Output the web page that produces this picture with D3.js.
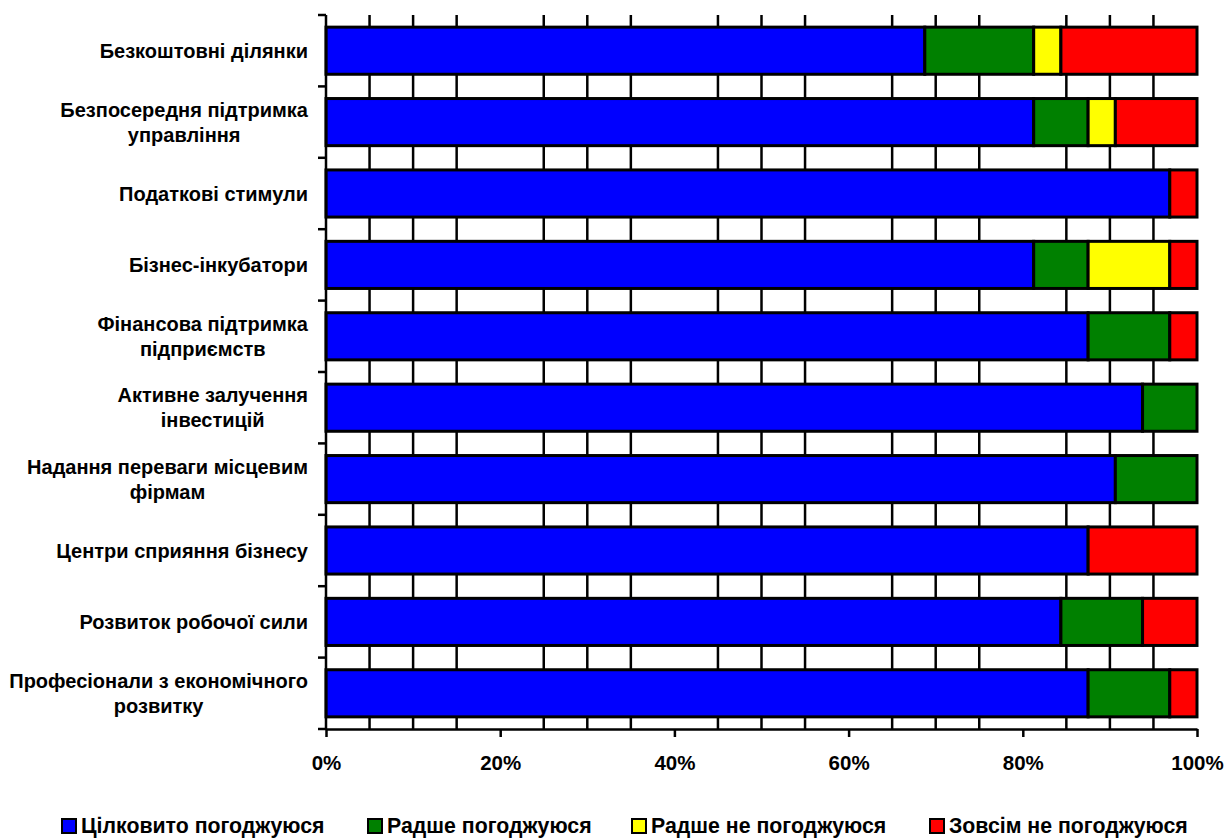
<!DOCTYPE html>
<html>
<head>
<meta charset="utf-8">
<script src="https://cdn.jsdelivr.net/npm/d3@7/dist/d3.min.js"></script>
<style>
  html, body { margin: 0; padding: 0; background: #fff; }
  svg { display: block; }
  text { font-family: Arial, "Liberation Sans", sans-serif; font-weight: bold; fill: #000; }
</style>
</head>
<body>
<svg id="chart" width="1225" height="838"></svg>
<script>
// ---- data ----
const categories = [
  "Безкоштовні ділянки",
  "Безпосередня підтримка\nуправління",
  "Податкові стимули",
  "Бізнес-інкубатори",
  "Фінансова підтримка\nпідприємств",
  "Активне залучення\nінвестицій",
  "Надання переваги місцевим\nфірмам",
  "Центри сприяння бізнесу",
  "Розвиток робочої сили",
  "Професіонали з економічного\nрозвитку"
];
const seriesNames = ["Цілковито погоджуюся", "Радше погоджуюся", "Радше не погоджуюся", "Зовсім не погоджуюся"];
const fullyAgree     = [68.75, 81.25, 96.875, 81.25, 87.5, 93.75, 90.625, 87.5, 84.375, 87.5];
const ratherAgree    = [12.5, 6.25, 0, 6.25, 9.375, 6.25, 9.375, 0, 9.375, 9.375];
const ratherDisagree = [3.125, 3.125, 0, 9.375, 0, 0, 0, 0, 0, 0];
const fullyDisagree  = [15.625, 9.375, 3.125, 3.125, 3.125, 0, 0, 12.5, 6.25, 3.125];
const tickValues = [0, 20, 40, 60, 80, 100];
const tickLabels = ["0%", "20%", "40%", "60%", "80%", "100%"];
const gridValues = [5, 10, 15, 25, 30, 35, 45, 50, 55, 65, 70, 75, 85, 90, 95];

// ---- styling / layout ----
const colors = ["#0000FF", "#008000", "#FFFF00", "#FF0000"];
const plot = { left: 326, right: 1197, top: 15, bottom: 729 };
const legendX = [62, 368, 632, 930];

const svg = d3.select("#chart");

const rows = categories.map((c, i) => ({
  cat: c,
  vals: [fullyAgree[i], ratherAgree[i], ratherDisagree[i], fullyDisagree[i]]
}));

const x = d3.scaleLinear().domain([0, 100]).range([plot.left, plot.right]);
const y = d3.scaleBand().domain(categories).range([plot.top, plot.bottom])
  .paddingInner(0.34).paddingOuter(0.17);

// gridlines
svg.append("g").selectAll("line").data(gridValues).join("line")
  .attr("x1", d => x(d)).attr("x2", d => x(d))
  .attr("y1", plot.top).attr("y2", plot.bottom)
  .attr("stroke", "#000").attr("stroke-width", 2.5);

// bars
const stack = d3.stack().keys([0, 1, 2, 3]).value((d, k) => d.vals[k]);
const stacked = stack(rows);
const layers = svg.append("g").selectAll("g").data(stacked).join("g")
  .attr("fill", (d, i) => colors[i]);
layers.selectAll("rect").data(d => d.filter(s => s[1] - s[0] > 0)).join("rect")
  .attr("x", d => x(d[0]))
  .attr("width", d => x(d[1]) - x(d[0]))
  .attr("y", d => y(d.data.cat))
  .attr("height", y.bandwidth())
  .attr("stroke", "#000").attr("stroke-width", 3);

// left axis line + ticks at band boundaries
const bounds = categories.map(c => y(c) - y.step() * y.paddingInner() / 2);
bounds[0] = plot.top;
bounds.push(plot.bottom);
svg.append("line").attr("x1", plot.left).attr("x2", plot.left)
  .attr("y1", plot.top).attr("y2", plot.bottom)
  .attr("stroke", "#000").attr("stroke-width", 2.5);
svg.append("g").selectAll("line").data(bounds).join("line")
  .attr("x1", plot.left - 8).attr("x2", plot.left)
  .attr("y1", d => d).attr("y2", d => d)
  .attr("stroke", "#000").attr("stroke-width", 2.5);

// bottom axis
const xAxis = d3.axisBottom(x).tickValues(tickValues)
  .tickFormat((d, i) => tickLabels[i]).tickSize(8).tickSizeOuter(0).tickPadding(18);
const gx = svg.append("g").attr("transform", `translate(0,${plot.bottom})`).call(xAxis);
gx.select(".domain").attr("stroke", "#000").attr("stroke-width", 2.5);
gx.selectAll(".tick line").attr("stroke", "#000").attr("stroke-width", 2.5);
gx.selectAll(".tick text").attr("font-size", 20.5).attr("font-family", "Arial, 'Liberation Sans', sans-serif")
  .attr("font-weight", "bold").attr("fill", "#000");

// category labels
const labelG = svg.append("g");
categories.forEach(c => {
  const lines = c.split("\n");
  const cy = y(c) + y.bandwidth() / 2;
  const lh = 25;
  const t = labelG.append("text").attr("font-size", 20);
  const spans = lines.map((ln, j) => t.append("tspan")
    .attr("y", cy + 7 + (j - (lines.length - 1) / 2) * lh)
    .text(ln));
  const w = d3.max(spans, s => s.node().getComputedTextLength());
  spans.forEach(s => s.attr("x", 308 - w / 2).attr("text-anchor", "middle"));
});

// legend
const lg = svg.append("g");
seriesNames.forEach((n, i) => {
  lg.append("rect").attr("x", legendX[i]).attr("y", 819).attr("width", 14).attr("height", 14)
    .attr("fill", colors[i]).attr("stroke", "#000").attr("stroke-width", 2);
  lg.append("text").attr("x", legendX[i] + 19).attr("y", 833).attr("font-size", 21.3).text(n);
});
</script>
</body>
</html>
